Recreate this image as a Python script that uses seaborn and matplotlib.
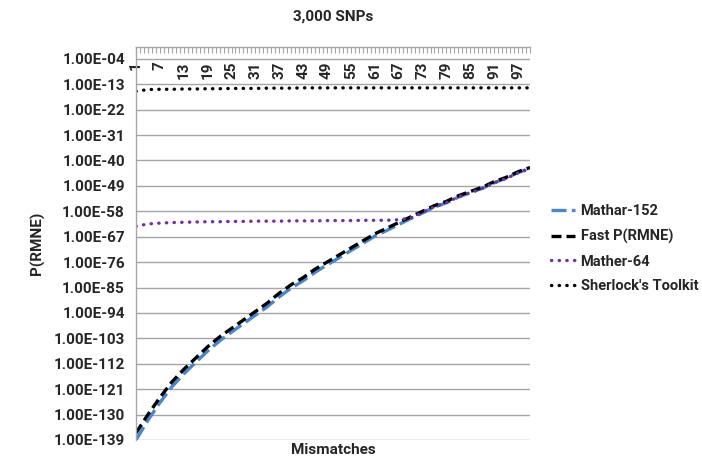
import numpy as np
import pandas as pd
import seaborn as sns
import matplotlib.pyplot as plt
from matplotlib.ticker import FixedLocator, FuncFormatter, NullLocator

# mismatches sampled along the category axis (1..100)
mismatches = [1, 4, 7, 10, 13, 16, 19, 22, 25, 28, 31, 34, 37, 40, 43, 46, 49,
              52, 55, 58, 61, 64, 67, 70, 73, 76, 79, 82, 85, 88, 91, 94, 97, 100]

# log10 P(RMNE)
fast_log = [-136.5, -130.0, -124.0, -118.5, -114.0, -110.0, -106.0, -102.5,
            -99.5, -96.5, -93.5, -90.5, -87.0, -84.0, -81.5, -78.5, -76.0,
            -73.5, -71.0, -68.5, -66.0, -64.0, -62.0, -60.0, -58.0, -56.0,
            -54.5, -52.5, -51.0, -49.5, -47.5, -46.0, -44.0, -42.5]
mathar152_log = [-139.0, -132.0, -125.8, -120.2, -115.6, -111.5, -107.5, -103.9,
                 -100.8, -97.8, -94.8, -91.8, -88.3, -85.2, -82.6, -79.6, -77.0,
                 -74.5, -71.9, -69.4, -66.8, -64.8, -62.7, -60.6, -58.6, -56.5,
                 -55.0, -53.0, -51.4, -49.9, -47.9, -46.3, -44.3, -42.8]
mather64_log = [-63.3, -62.5, -62.2, -62.0, -61.9, -61.8, -61.7, -61.7, -61.6,
                -61.6, -61.5, -61.5, -61.5, -61.4, -61.4, -61.4, -61.3, -61.3,
                -61.3, -61.2, -61.2, -61.2, -61.0, -60.4, -58.4, -56.4, -54.9,
                -52.9, -51.4, -49.9, -47.9, -46.4, -44.4, -42.9]
sherlock_log = [-15.5, -14.9, -14.8, -14.8, -14.7, -14.7, -14.6, -14.6, -14.5,
                -14.5, -14.5, -14.4, -14.4, -14.4, -14.3, -14.3, -14.3, -14.3,
                -14.3, -14.3, -14.3, -14.3, -14.3, -14.3, -14.3, -14.3, -14.3,
                -14.3, -14.3, -14.3, -14.3, -14.3, -14.3, -14.3]

series = {
    "Mathar-152": mathar152_log,
    "Fast P(RMNE)": fast_log,
    "Mather-64": mather64_log,
    "Sherlock's Toolkit": sherlock_log,
}
styles = {
    "Mathar-152": dict(color="#4A86C8", lw=2.4, linestyle=(0, (4.5, 1.6))),
    "Fast P(RMNE)": dict(color="black", lw=2.4, linestyle=(0, (3.0, 1.5))),
    "Mather-64": dict(color="#7030A0", lw=2.4, linestyle=(0, (0.1, 2.2)),
                      dash_capstyle="round"),
    "Sherlock's Toolkit": dict(color="black", lw=2.4, linestyle=(0, (0.1, 2.2)),
                               dash_capstyle="round"),
}

ytick_exp = list(range(-139, -3, 9))
xtick_major = list(range(1, 101, 6))

sns.set_style("white")
plt.rcParams["font.family"] = ["Roboto", "DejaVu Sans"]
plt.rcParams["font.weight"] = "bold"
FS = 11

fig = plt.figure(figsize=(7.02, 4.72), dpi=100)
ax = fig.add_axes([0.1937, 0.0678, 0.755 - 0.1937, 0.8994 - 0.0678])

for name, vals in series.items():
    df = pd.DataFrame({"Mismatches": mismatches, "P": np.power(10.0, vals)})
    sns.lineplot(data=df, x="Mismatches", y="P", ax=ax, label=name, **styles[name])

ax.set_yscale("log")
ax.set_ylim(1e-139, 1e0)
ax.set_xlim(1, 100)

ax.yaxis.set_major_locator(FixedLocator([10.0 ** e for e in ytick_exp]))
ax.yaxis.set_minor_locator(NullLocator())
ax.yaxis.set_major_formatter(
    FuncFormatter(lambda v, p: "1.00E-%02d" % round(-np.log10(v))))
ax.yaxis.grid(True, color="#A6A6A6", lw=1)
ax.tick_params(axis="y", which="major", direction="out", length=5, width=1,
               color="#A6A6A6", labelsize=FS, pad=3)
for lab in ax.get_yticklabels():
    lab.set_fontweight("bold")

ax.xaxis.set_ticks_position("top")
ax.xaxis.set_major_locator(FixedLocator(xtick_major))
ax.xaxis.set_minor_locator(FixedLocator(list(range(1, 101))))
ax.set_xticklabels([str(v) for v in xtick_major], rotation=90, va="top",
                   fontweight="bold")
ax.tick_params(axis="x", which="both", direction="in", length=4, width=0.8,
               color="#A6A6A6", top=True, bottom=False, labeltop=True,
               labelbottom=False, labelsize=FS, pad=-10)
ax.xaxis.set_label_position("bottom")

for side in ["right", "bottom"]:
    ax.spines[side].set_visible(False)
for side in ["left", "top"]:
    ax.spines[side].set_color("#A6A6A6")
    ax.spines[side].set_linewidth(1)

ax.set_xlabel("Mismatches", fontsize=FS, fontweight="bold", labelpad=2)
ax.set_ylabel("P(RMNE)", fontsize=FS, fontweight="bold", labelpad=6)
fig.text(0.474, 0.964, "3,000 SNPs", ha="center", va="center",
         fontsize=FS, fontweight="bold")

leg = ax.legend(loc="center left", bbox_to_anchor=(0.774, 0.473),
                bbox_transform=fig.transFigure, frameon=False,
                prop={"size": 10.5, "weight": "bold"},
                handlelength=1.7, handletextpad=0.35, labelspacing=0.72,
                borderpad=0)

fig.savefig("out.png", dpi=100)
